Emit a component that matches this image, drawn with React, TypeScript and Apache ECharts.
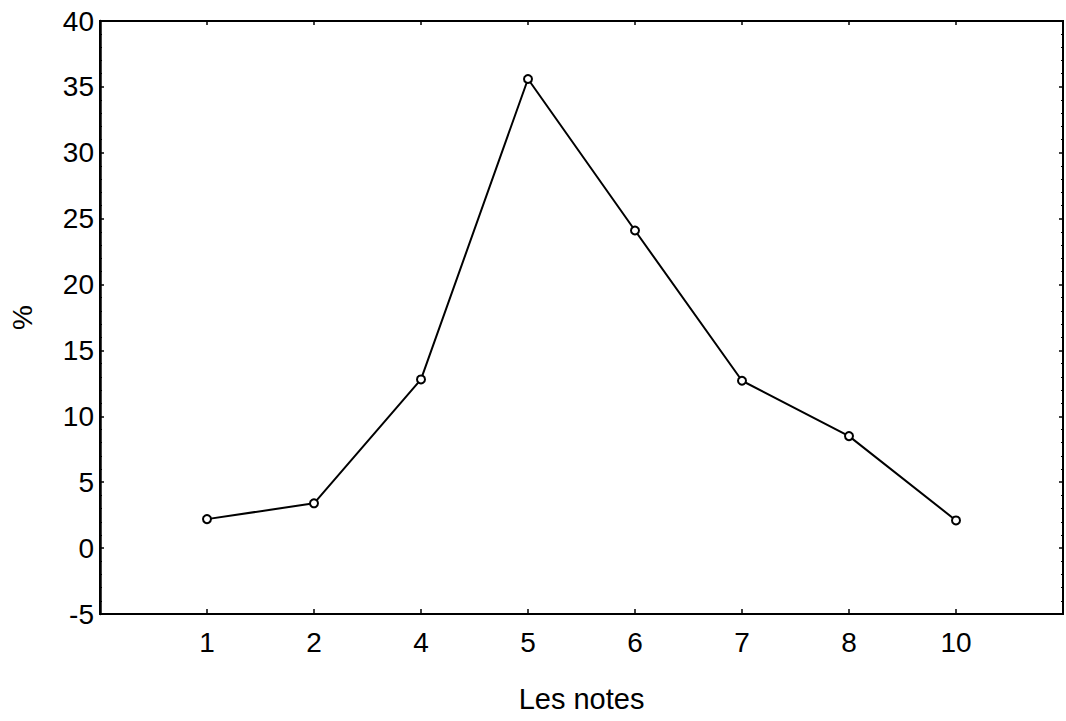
import React, { useEffect, useRef } from "react";
import * as echarts from "echarts";

const categories: string[] = ["1", "2", "4", "5", "6", "7", "8", "10"];
const percentages: number[] = [2.2, 3.4, 12.8, 35.6, 24.1, 12.7, 8.5, 2.1];
const yTicks = { min: -5, max: 40, interval: 5 };
const xTitle = "Les notes";
const yTitle = "%";

export default function App() {
  const ref = useRef<HTMLDivElement>(null);
  useEffect(() => {
    if (!ref.current) return;
    const chart = echarts.init(ref.current, null, { renderer: "svg" });
    const font = "'Liberation Sans', Arial, sans-serif";
    const labelStyle = { color: "#000", fontSize: 28, fontFamily: font };
    chart.setOption({
      animation: false,
      backgroundColor: "#fff",
      grid: {
        left: 97,
        right: 2,
        top: 21,
        bottom: 107,
        show: true,
        borderColor: "#000",
        borderWidth: 2,
        backgroundColor: "transparent",
      },
      xAxis: [
        {
          type: "value",
          min: 0,
          max: categories.length + 1,
          interval: 1,
          position: "bottom",
          axisLine: { show: true, onZero: false, lineStyle: { color: "#000", width: 2 } },
          axisTick: { show: true, inside: true, length: 5, lineStyle: { color: "#000", width: 1.5 } },
          splitLine: { show: false },
          axisLabel: {
            ...labelStyle,
            margin: 14,
            formatter: (v: number) => categories[v - 1] ?? "",
          },
          name: xTitle,
          nameLocation: "middle",
          nameGap: 70,
          nameTextStyle: { ...labelStyle, fontSize: 29 },
        },
        {
          type: "value",
          min: 0,
          max: categories.length + 1,
          interval: 1,
          position: "top",
          axisLine: { show: true, onZero: false, lineStyle: { color: "#000", width: 2 } },
          axisTick: { show: true, inside: true, length: 4, lineStyle: { color: "#000", width: 1.5 } },
          axisLabel: { show: false },
          splitLine: { show: false },
        },
      ],
      yAxis: [
        {
          type: "value",
          min: yTicks.min,
          max: yTicks.max,
          interval: yTicks.interval,
          position: "left",
          axisLine: { show: true, onZero: false, lineStyle: { color: "#000", width: 2.5 } },
          axisTick: { show: true, inside: true, length: 4, lineStyle: { color: "#000", width: 1.5 } },
          minorTick: { show: true, splitNumber: 5, length: 2, lineStyle: { color: "#000", width: 1.2 } },
          splitLine: { show: false },
          axisLabel: { ...labelStyle, margin: 6 },
          name: yTitle,
          nameLocation: "middle",
          nameGap: 64,
          nameRotate: 90,
          nameTextStyle: { ...labelStyle, fontSize: 28 },
        },
        {
          type: "value",
          min: yTicks.min,
          max: yTicks.max,
          interval: yTicks.interval,
          position: "right",
          axisLine: { show: true, onZero: false, lineStyle: { color: "#000", width: 2 } },
          axisTick: { show: true, inside: true, length: 4, lineStyle: { color: "#000", width: 1.5 } },
          minorTick: { show: true, splitNumber: 5, length: 2, lineStyle: { color: "#000", width: 1.2 } },
          axisLabel: { show: false },
          splitLine: { show: false },
        },
      ],
      series: [
        {
          type: "line",
          xAxisIndex: 0,
          yAxisIndex: 0,
          data: percentages.map((v, i) => [i + 1, v]),
          lineStyle: { color: "#000", width: 2 },
          symbol: "emptyCircle",
          symbolSize: 8,
          showSymbol: true,
          itemStyle: { color: "#000", borderColor: "#000", borderWidth: 1.6 },
          z: 3,
        },
      ],
    });
    return () => chart.dispose();
  }, []);
  return (
    <div
      ref={ref}
      style={{ position: "absolute", left: 0, top: 0, width: 1066, height: 721, background: "#fff" }}
    />
  );
}
